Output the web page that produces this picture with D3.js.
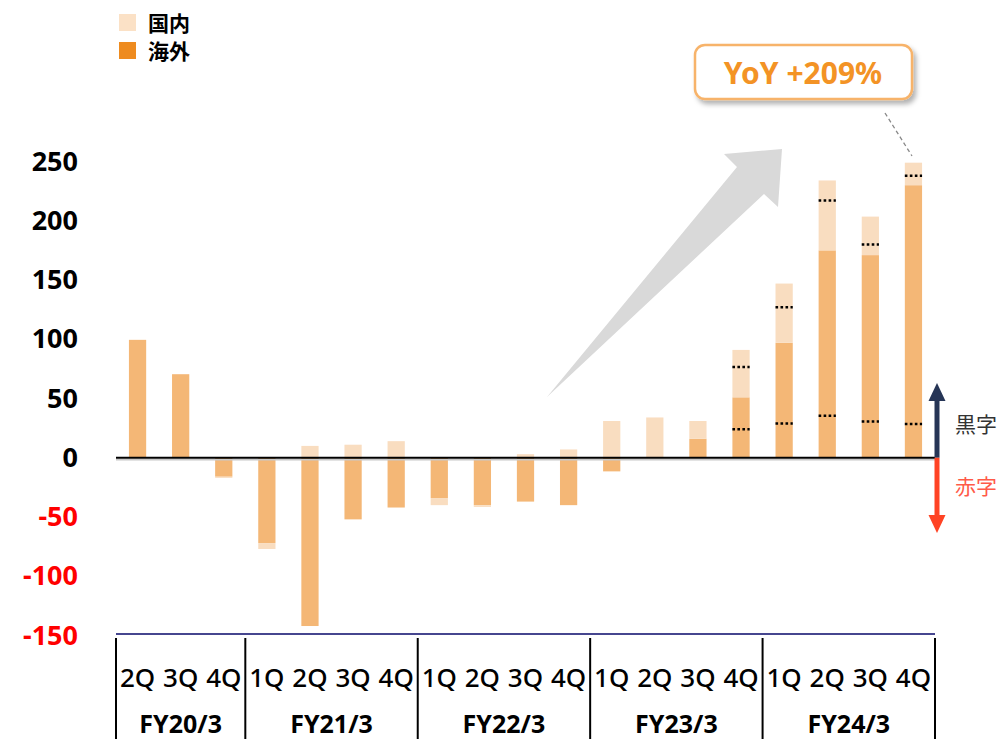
<!DOCTYPE html>
<html>
<head>
<meta charset="utf-8">
<script src="https://cdn.jsdelivr.net/npm/d3@7"></script>
<style>
  body { margin: 0; background: #fff; }
  text { font-family: "Noto Sans", "Noto Sans CJK JP", sans-serif; }
</style>
</head>
<body>
<div id="chart"></div>
<script>
// data
var quarters = ["2Q","3Q","4Q","1Q","2Q","3Q","4Q","1Q","2Q","3Q","4Q","1Q","2Q","3Q","4Q","1Q","2Q","3Q","4Q"];
var fiscalYears = ["FY20/3","FY21/3","FY22/3","FY23/3","FY24/3"];
var fyCounts = [3, 4, 4, 4, 4];
var overseas = [99.5, 70.5, -16, -72, -142, -52, -42, -34, -40, -37, -40, -11.5, 0, 16, 51, 97, 175, 171, 230];
var domestic = [0, 0, -1, -5, 10, 11, 14, -6, -1.5, 3, 7, 31, 34, 15, 40, 50, 59, 32.5, 19];
// dotted markers on the last five bars
var dotIndex = [14, 15, 16, 17, 18];
var dotUpper = [76.5, 127, 217, 180, 238];
var dotLower = [24, 29, 35.5, 30.5, 28.5];
var yTicks = [250, 200, 150, 100, 50, 0, -50, -100, -150];
var yoyText = "YoY +209%";

var svgwidth = 998;
var svgheight = 739;
var left = 116, right = 935;

var svg = d3.select("#chart").append("svg").attr("width", svgwidth).attr("height", svgheight);
var defs = svg.append("defs");
var shadow = defs.append("filter").attr("id", "shadow").attr("x", "-20%").attr("y", "-30%").attr("width", "140%").attr("height", "170%");
shadow.append("feDropShadow").attr("dx", 3).attr("dy", 4).attr("stdDeviation", 2.5).attr("flood-color", "#000").attr("flood-opacity", 0.3);

var x = d3.scaleBand()
    .domain(d3.range(quarters.length))
    .range([left, right])
    .paddingInner(0.6)
    .paddingOuter(0.3);

var y = d3.scaleLinear().domain([-150, 250]).range([635.5, 161.5]);

var step = x.step();
var bw = x.bandwidth();

// big grey arrow
svg.append("polygon")
    .attr("points", "547,397 737,167 724,154 782,149 778,207 764,194")
    .attr("fill", "#d9d9d9");

// bars: overseas
var chartGroup = svg.append("g");
chartGroup.selectAll("rect.ovs")
    .data(overseas)
    .enter()
    .append("rect")
    .attr("class", "ovs")
    .attr("x", (d, i) => x(i))
    .attr("width", bw)
    .attr("y", d => y(Math.max(d, 0)))
    .attr("height", d => Math.abs(y(d) - y(0)))
    .attr("fill", "#f4b776");

// bars: domestic stacked on the same side
chartGroup.selectAll("rect.dom")
    .data(domestic)
    .enter()
    .append("rect")
    .attr("class", "dom")
    .attr("x", (d, i) => x(i))
    .attr("width", bw)
    .attr("y", function(d, i) {
        var base = d >= 0 ? Math.max(overseas[i], 0) : Math.min(overseas[i], 0);
        return y(d >= 0 ? base + d : base);
    })
    .attr("height", d => Math.abs(y(d) - y(0)))
    .attr("fill", "#f9ddc0");

// dotted lines
dotIndex.forEach(function(idx, k) {
    [dotUpper[k], dotLower[k]].forEach(function(v) {
        chartGroup.append("line")
            .attr("x1", x(idx))
            .attr("x2", x(idx) + bw)
            .attr("y1", y(v))
            .attr("y2", y(v))
            .attr("stroke", "#000")
            .attr("stroke-width", 2.5)
            .attr("stroke-dasharray", "2.6,2.4");
    });
});

// zero line
svg.append("line").attr("x1", left).attr("x2", right).attr("y1", y(0) + 2).attr("y2", y(0) + 2)
    .attr("stroke", "#c8c8c8").attr("stroke-width", 1.5);
svg.append("line").attr("x1", left).attr("x2", right).attr("y1", y(0)).attr("y2", y(0))
    .attr("stroke", "#000").attr("stroke-width", 2);

// y axis labels
var leftAxis = d3.axisLeft(y).tickValues(yTicks).tickSize(0).tickPadding(38).tickFormat(d => String(d));
var yAxis = svg.append("g").attr("transform", "translate(" + left + ",0)").call(leftAxis);
yAxis.select(".domain").remove();
yAxis.selectAll("text")
    .attr("font-size", 27)
    .attr("font-weight", "bold")
    .attr("font-family", "'Noto Sans', sans-serif")
    .attr("fill", d => d < 0 ? "#ff0000" : "#000");

// bottom axis line
svg.append("line").attr("x1", left).attr("x2", right).attr("y1", 634).attr("y2", 634)
    .attr("stroke", "#46468f").attr("stroke-width", 2);

// fiscal-year separators and labels
var start = 0;
fiscalYears.forEach(function(fy, k) {
    var x0 = x(start) - (step - bw) / 2;
    var x1 = x(start + fyCounts[k] - 1) + bw + (step - bw) / 2;
    svg.append("text")
        .attr("x", (x0 + x1) / 2)
        .attr("y", 723)
        .attr("text-anchor", "middle")
        .attr("dominant-baseline", "central")
        .attr("font-size", 25)
        .attr("font-weight", "bold")
        .text(fy);
    start += fyCounts[k];
});
var seps = [0];
fyCounts.reduce(function(a, c) { seps.push(a + c); return a + c; }, 0);
svg.selectAll("line.sep")
    .data(seps)
    .enter()
    .append("line")
    .attr("class", "sep")
    .attr("x1", d => left + d * step)
    .attr("x2", d => left + d * step)
    .attr("y1", 638)
    .attr("y2", svgheight)
    .attr("stroke", "#000")
    .attr("stroke-width", 2);

// quarter labels
svg.selectAll("text.q")
    .data(quarters)
    .enter()
    .append("text")
    .attr("class", "q")
    .attr("x", (d, i) => x(i) + bw / 2)
    .attr("y", 677)
    .attr("text-anchor", "middle")
    .attr("dominant-baseline", "central")
    .attr("font-size", 26)
    .attr("font-weight", 500)
    .text(d => d);

// legend
var legend = [["国内", "#fbe1c6"], ["海外", "#ee8b1f"]];
legend.forEach(function(l, k) {
    svg.append("rect").attr("x", 119).attr("y", 14 + k * 28).attr("width", 17).attr("height", 17).attr("fill", l[1]);
    svg.append("text")
        .attr("x", 148)
        .attr("y", 23 + k * 28)
        .attr("dominant-baseline", "central")
        .attr("font-size", 21)
        .attr("font-weight", "bold")
        .attr("font-family", "'Noto Sans CJK JP', sans-serif")
        .text(l[0]);
});

// YoY callout
svg.append("line").attr("x1", 885).attr("y1", 113).attr("x2", 912).attr("y2", 156)
    .attr("stroke", "#888").attr("stroke-width", 1.3).attr("stroke-dasharray", "4,3");
svg.append("rect")
    .attr("x", 695).attr("y", 45).attr("width", 217).attr("height", 54).attr("rx", 10)
    .attr("fill", "#fff").attr("stroke", "#f7b36a").attr("stroke-width", 2.5)
    .attr("filter", "url(#shadow)");
svg.append("text")
    .attr("x", 803).attr("y", 72)
    .attr("text-anchor", "middle")
    .attr("dominant-baseline", "central")
    .attr("font-size", 30)
    .attr("font-weight", "bold")
    .attr("fill", "#f39325")
    .text(yoyText);

// profit / loss arrows on the right
var ax = 937;
svg.append("line").attr("x1", ax).attr("x2", ax).attr("y1", y(0)).attr("y2", 399)
    .attr("stroke", "#263556").attr("stroke-width", 5);
svg.append("polygon").attr("points", (ax - 8.5) + ",401 " + ax + ",383 " + (ax + 8.5) + ",401").attr("fill", "#263556");
svg.append("line").attr("x1", ax).attr("x2", ax).attr("y1", y(0)).attr("y2", 517)
    .attr("stroke", "#ff4324").attr("stroke-width", 5);
svg.append("polygon").attr("points", (ax - 8.5) + ",515 " + ax + ",533 " + (ax + 8.5) + ",515").attr("fill", "#ff4324");
svg.append("text").attr("x", 955).attr("y", 424).attr("dominant-baseline", "central")
    .attr("font-size", 21).attr("fill", "#333").attr("font-family", "'Noto Sans CJK JP', sans-serif").text("黒字");
svg.append("text").attr("x", 955).attr("y", 486).attr("dominant-baseline", "central")
    .attr("font-size", 21).attr("fill", "#ff5a48").attr("font-family", "'Noto Sans CJK JP', sans-serif").text("赤字");
</script>
</body>
</html>
